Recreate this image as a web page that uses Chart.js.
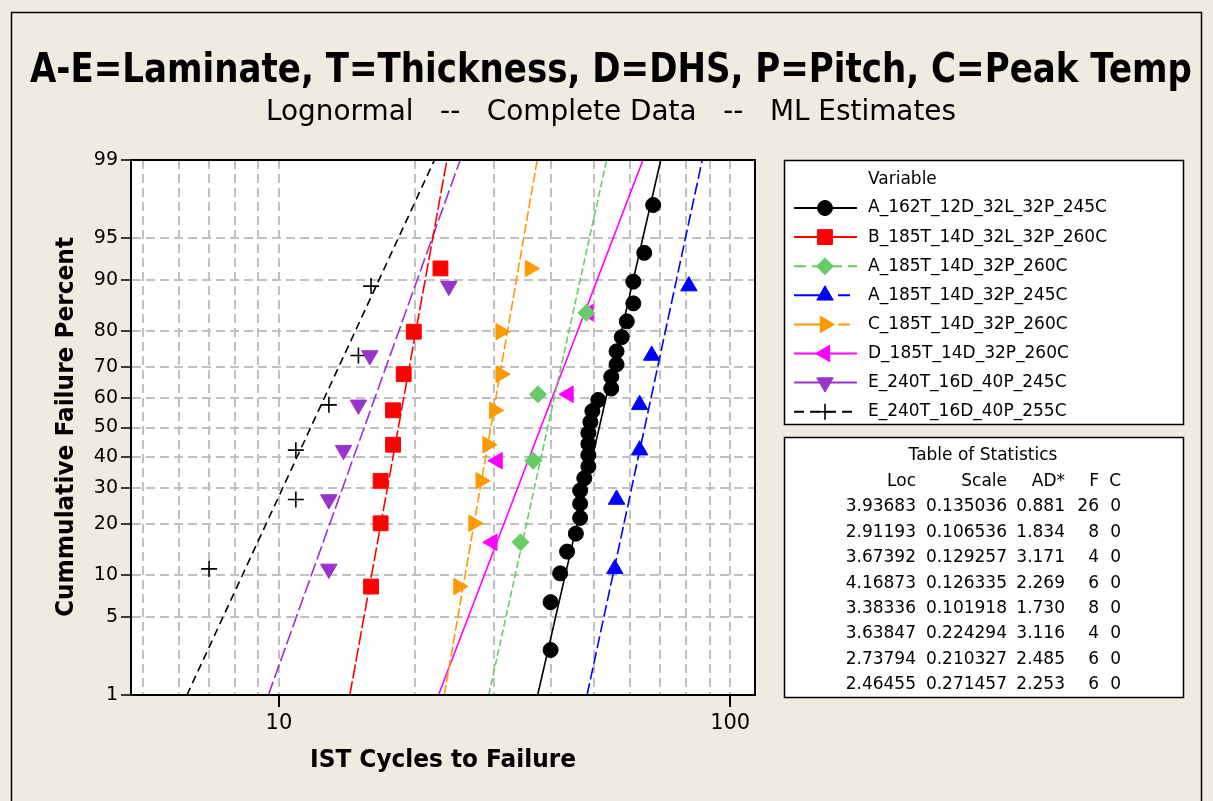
<!DOCTYPE html>
<html>
<head>
<meta charset="utf-8">
<script src="https://cdn.jsdelivr.net/npm/chart.js@4.4.0/dist/chart.umd.min.js"></script>
<style>
  html, body { margin: 0; padding: 0; background: #efebe1; }
  #wrap { position: relative; width: 1213px; height: 801px; }
</style>
</head>
<body>
<div id="wrap"><canvas id="plot" width="1213" height="801"></canvas></div>
<script>
// --- data ---
const seriesNames = [
    'A_162T_12D_32L_32P_245C',
    'B_185T_14D_32L_32P_260C',
    'A_185T_14D_32P_260C',
    'A_185T_14D_32P_245C',
    'C_185T_14D_32P_260C',
    'D_185T_14D_32P_260C',
    'E_240T_16D_40P_245C',
    'E_240T_16D_40P_255C'
];

// Table of Statistics
const locValues = [3.93683, 2.91193, 3.67392, 4.16873, 3.38336, 3.63847, 2.73794, 2.46455];
const scaleValues = [0.135036, 0.106536, 0.129257, 0.126335, 0.101918, 0.224294, 0.210327, 0.271457];
const adValues = ['0.881', '1.834', '3.171', '2.269', '1.730', '3.116', '2.485', '2.253'];
const failCounts = [26, 8, 4, 6, 8, 4, 6, 6];
const censCounts = [0, 0, 0, 0, 0, 0, 0, 0];

// cycles to failure (x) and plotted cumulative percent (y) per series
const cyclesA162 = [40, 40, 42, 43.5, 45.5, 46.5, 46.5, 46.5, 47.5, 48.5, 48.5, 48.5, 48.5,
                    49, 49.5, 51, 54.5, 54.5, 56, 56, 57.5, 59, 61, 61, 64.5, 67.5];
const pctA162 = [2.65, 6.44, 10.23, 14.02, 17.80, 21.59, 25.38, 29.17, 32.95, 36.74, 40.53, 44.32, 48.11,
                 51.89, 55.68, 59.47, 63.26, 67.05, 70.83, 74.62, 78.41, 82.20, 85.98, 89.77, 93.56, 97.35];
const cyclesB185 = [16, 16.8, 16.8, 17.9, 17.9, 18.9, 19.9, 22.8];
const pctB185 = [8.33, 20.24, 32.14, 44.05, 55.95, 67.86, 79.76, 91.67];
const cyclesA185_260 = [34.3, 36.6, 37.5, 48];
const pctA185_260 = [15.91, 38.64, 61.36, 84.09];
const cyclesA185_245 = [55.5, 56, 63, 63, 67, 81];
const pctA185_245 = [10.94, 26.56, 42.19, 57.81, 73.44, 89.06];
const cyclesC185 = [25, 27, 28, 29, 30, 31, 31, 36];
const pctC185 = [8.33, 20.24, 32.14, 44.05, 55.95, 67.86, 79.76, 91.67];
const cyclesD185 = [29.7, 30.5, 43.8, 48.5];
const pctD185 = [15.91, 38.64, 61.36, 84.09];
const cyclesE240_245 = [12.9, 12.9, 13.9, 15, 15.9, 23.8];
const pctE240_245 = [10.94, 26.56, 42.19, 57.81, 73.44, 89.06];
const cyclesE240_255 = [7, 10.9, 10.9, 12.9, 15, 16];
const pctE240_255 = [10.94, 26.56, 42.19, 57.81, 73.44, 89.06];

const seriesCycles = [cyclesA162, cyclesB185, cyclesA185_260, cyclesA185_245, cyclesC185, cyclesD185, cyclesE240_245, cyclesE240_255];
const seriesPct = [pctA162, pctB185, pctA185_260, pctA185_245, pctC185, pctD185, pctE240_245, pctE240_255];

// axes
const yTickPct = [1, 5, 10, 20, 30, 40, 50, 60, 70, 80, 90, 95, 99];
const xGridValues = [5, 6, 7, 8, 9, 10, 20, 30, 40, 50, 60, 70, 80, 90, 100];
const xLabelValues = [10, 100];

// --- styles ---
const FONT = '"DejaVu Sans", Verdana, sans-serif';
const seriesStyle = [
    { color: '#000000', point: 'circle',   rotation: 0,   radius: 7.5,  dash: [],       legendDash: [] },
    { color: '#ff0000', point: 'rect',     rotation: 0,   radius: 10.5, dash: [14, 3],  legendDash: [] },
    { color: '#66cc66', point: 'rectRot',  rotation: 0,   radius: 8.5,  dash: [7, 3],   legendDash: [12, 6] },
    { color: '#0000ff', point: 'triangle', rotation: 0,   radius: 9.5,  dash: [12, 4],  legendDash: [36, 8, 12, 8] },
    { color: '#ff9900', point: 'triangle', rotation: 90,  radius: 9.5,  dash: [10, 3],  legendDash: [36, 8, 12, 8] },
    { color: '#ff00ff', point: 'triangle', rotation: 270, radius: 9.5,  dash: [],       legendDash: [] },
    { color: '#9933cc', point: 'triangle', rotation: 180, radius: 9.5,  dash: [14, 4],  legendDash: [] },
    { color: '#000000', point: 'cross',    rotation: 0,   radius: 8,    dash: [8, 5],   legendDash: [10, 6] }
];

// inverse standard normal CDF (Acklam)
function qnorm(p) {
    const a = [-3.969683028665376e+01, 2.209460984245205e+02, -2.759285104469687e+02, 1.383577518672690e+02, -3.066479806614716e+01, 2.506628277459239e+00];
    const b = [-5.447609879822406e+01, 1.615858368580409e+02, -1.556989798598866e+02, 6.680131188771972e+01, -1.328068155288572e+01];
    const c = [-7.784894002430293e-03, -3.223964580411365e-01, -2.400758277161838e+00, -2.549732539343734e+00, 4.374664141464968e+00, 2.938163982698783e+00];
    const d = [7.784695709041462e-03, 3.224671290700398e-01, 2.445134137142996e+00, 3.754408661907416e+00];
    const pl = 0.02425;
    let q, r;
    if (p < pl) {
        q = Math.sqrt(-2 * Math.log(p));
        return (((((c[0]*q+c[1])*q+c[2])*q+c[3])*q+c[4])*q+c[5]) / ((((d[0]*q+d[1])*q+d[2])*q+d[3])*q+1);
    }
    if (p > 1 - pl) {
        q = Math.sqrt(-2 * Math.log(1 - p));
        return -(((((c[0]*q+c[1])*q+c[2])*q+c[3])*q+c[4])*q+c[5]) / ((((d[0]*q+d[1])*q+d[2])*q+d[3])*q+1);
    }
    q = p - 0.5; r = q * q;
    return (((((a[0]*r+a[1])*r+a[2])*r+a[3])*r+a[4])*r+a[5])*q / (((((b[0]*r+b[1])*r+b[2])*r+b[3])*r+b[4])*r+1);
}

const zMin = qnorm(0.01);
const zMax = qnorm(0.99);

// build datasets: fitted lognormal line (from Loc/Scale) + plotted points
const datasets = [];
seriesNames.forEach((name, i) => {
    const st = seriesStyle[i];
    datasets.push({
        label: name + ' fit',
        data: [
            { x: Math.exp(locValues[i] + scaleValues[i] * zMin), y: zMin },
            { x: Math.exp(locValues[i] + scaleValues[i] * zMax), y: zMax }
        ],
        showLine: true,
        borderColor: st.color,
        borderWidth: 1.6,
        borderDash: st.dash,
        pointRadius: 0,
        order: 2
    });
});
seriesNames.forEach((name, i) => {
    const st = seriesStyle[i];
    datasets.push({
        label: name,
        data: seriesCycles[i].map((v, k) => ({ x: v, y: qnorm(seriesPct[i][k] / 100) })),
        showLine: false,
        pointStyle: st.point,
        rotation: st.rotation,
        pointRadius: st.radius,
        pointBackgroundColor: st.color,
        pointBorderColor: st.color,
        pointBorderWidth: st.point === 'cross' ? 1.6 : 1,
        order: 1
    });
});

function drawFitted(ctx, text, x, y, maxW) {
    ctx.fillText(text, x, y, maxW);
}

const decorPlugin = {
    id: 'decor',
    beforeDraw(chart) {
        const { ctx, chartArea: a } = chart;
        ctx.save();
        ctx.fillStyle = '#ffffff';
        ctx.fillRect(a.left, a.top, a.right - a.left, a.bottom - a.top);
        ctx.restore();
    },
    afterDraw(chart) {
        const { ctx, chartArea: a } = chart;
        ctx.save();

        // outer frame
        ctx.strokeStyle = '#000';
        ctx.lineWidth = 1.5;
        ctx.strokeRect(11.5, 12.5, 1190, 800);

        // plot frame
        ctx.lineWidth = 2;
        ctx.strokeRect(a.left, a.top, a.right - a.left, a.bottom - a.top);

        // titles
        ctx.fillStyle = '#000';
        ctx.textAlign = 'center';
        ctx.textBaseline = 'alphabetic';
        ctx.font = 'bold 40px ' + FONT;
        drawFitted(ctx, 'A-E=Laminate, T=Thickness, D=DHS, P=Pitch, C=Peak Temp', 611, 82, 1162);
        ctx.font = '28px ' + FONT;
        drawFitted(ctx, 'Lognormal   --   Complete Data   --   ML Estimates', 611, 120, 690);

        // axis titles
        ctx.font = 'bold 25px ' + FONT;
        drawFitted(ctx, 'IST Cycles to Failure', 443, 767, 266);
        ctx.save();
        ctx.translate(73, 427);
        ctx.rotate(-Math.PI / 2);
        drawFitted(ctx, 'Cummulative Failure Percent', 0, 0, 380);
        ctx.restore();

        // legend box
        ctx.fillStyle = '#ffffff';
        ctx.fillRect(784, 160, 399, 264);
        ctx.strokeStyle = '#000';
        ctx.lineWidth = 1.5;
        ctx.strokeRect(784.5, 160.5, 399, 264);
        ctx.fillStyle = '#000';
        ctx.textAlign = 'left';
        ctx.textBaseline = 'middle';
        ctx.font = '17px ' + FONT;
        ctx.fillText('Variable', 868, 180);
        seriesNames.forEach((name, i) => {
            const st = seriesStyle[i];
            const y = 208 + i * 29.1;
            ctx.save();
            ctx.strokeStyle = st.color;
            ctx.lineWidth = 2;
            ctx.setLineDash(st.legendDash);
            ctx.beginPath();
            ctx.moveTo(794, y);
            ctx.lineTo(857, y);
            ctx.stroke();
            ctx.setLineDash([]);
            ctx.fillStyle = st.color;
            ctx.lineWidth = st.point === 'cross' ? 1.6 : 1;
            Chart.helpers.drawPoint(ctx, {
                pointStyle: st.point, rotation: st.rotation, radius: st.radius, borderWidth: 1
            }, 825, y);
            ctx.restore();
            ctx.fillStyle = '#000';
            ctx.fillText(name, 868, y);
        });

        // table of statistics
        ctx.fillStyle = '#ffffff';
        ctx.fillRect(784, 437, 399, 260);
        ctx.strokeRect(784.5, 437.5, 399, 260);
        ctx.fillStyle = '#000';
        ctx.font = '17px ' + FONT;
        ctx.textAlign = 'center';
        ctx.fillText('Table of Statistics', 983, 456);
        ctx.textAlign = 'right';
        const cols = [916, 1007, 1065, 1099, 1121];
        ['Loc', 'Scale', 'AD*', 'F', 'C'].forEach((h, k) => ctx.fillText(h, cols[k], 482));
        locValues.forEach((loc, i) => {
            const y = 507 + i * 25.4;
            ctx.fillText(loc.toFixed(5), cols[0], y);
            ctx.fillText(scaleValues[i].toFixed(6), cols[1], y);
            ctx.fillText(adValues[i], cols[2], y);
            ctx.fillText(String(failCounts[i]), cols[3], y);
            ctx.fillText(String(censCounts[i]), cols[4], y);
        });

        ctx.restore();
    }
};

new Chart(document.getElementById('plot'), {
    type: 'scatter',
    data: { datasets: datasets },
    options: {
        responsive: false,
        animation: false,
        layout: { padding: { left: 20, right: 458, top: 160, bottom: 30 } },
        plugins: {
            legend: { display: false },
            tooltip: { enabled: false },
            title: { display: false }
        },
        scales: {
            x: {
                type: 'logarithmic',
                min: 4.70,
                max: 113.5,
                afterBuildTicks: (scale) => {
                    scale.ticks = xGridValues.map(v => ({ value: v }));
                },
                afterFit: (scale) => { scale.height = 76; },
                ticks: {
                    autoSkip: false,
                    maxRotation: 0,
                    padding: 4,
                    color: '#000',
                    font: { family: FONT, size: 21 },
                    callback: (value) => xLabelValues.includes(value) ? String(value) : ''
                },
                grid: {
                    color: '#c0c0c0',
                    lineWidth: 2,
                    tickLength: 12,
                    tickWidth: 2,
                    tickColor: (ctx) => (ctx.tick && xLabelValues.includes(ctx.tick.value)) ? '#000' : 'rgba(0,0,0,0)'
                },
                border: { display: true, color: '#000', width: 2, dash: [9, 5] }
            },
            y: {
                type: 'linear',
                min: zMin,
                max: zMax,
                afterBuildTicks: (scale) => {
                    scale.ticks = yTickPct.map(p => ({ value: qnorm(p / 100) }));
                },
                afterFit: (scale) => { scale.width = 111; },
                ticks: {
                    autoSkip: false,
                    padding: 3,
                    color: '#000',
                    font: { family: FONT, size: 19 },
                    callback: (value, index) => String(yTickPct[index])
                },
                grid: {
                    color: '#c0c0c0',
                    lineWidth: 2,
                    tickLength: 10,
                    tickWidth: 1.5,
                    tickColor: '#000'
                },
                border: { display: true, color: '#000', width: 2, dash: [9, 5] }
            }
        }
    },
    plugins: [decorPlugin]
});
</script>
</body>
</html>
